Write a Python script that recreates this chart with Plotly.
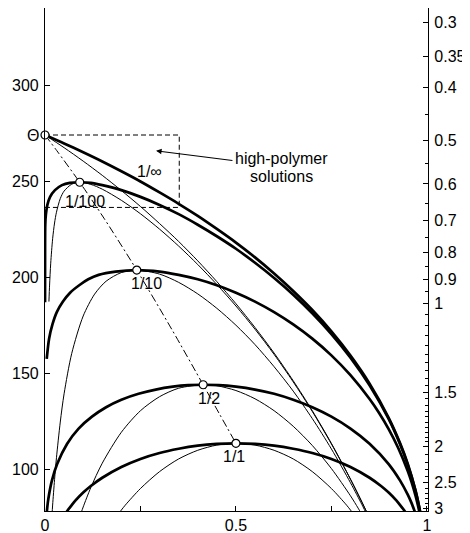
import plotly.graph_objects as go

# ---------------- data ----------------
# x: polymer volume fraction phi ; y: temperature T (left axis)
b1_phi = [0.05, 0.06, 0.07, 0.08, 0.10, 0.12, 0.15, 0.20, 0.25, 0.30, 0.35, 0.40, 0.45, 0.50,
          0.55, 0.60, 0.65, 0.70, 0.75, 0.80, 0.85, 0.88, 0.90, 0.92, 0.93, 0.94, 0.95]
b1_T = [75.8, 78.8, 81.4, 83.8, 87.9, 91.3, 95.6, 101.2, 105.4, 108.5, 110.7, 112.3, 113.2, 113.5,
        113.2, 112.3, 110.7, 108.5, 105.4, 101.2, 95.6, 91.3, 87.9, 83.8, 81.4, 78.8, 75.8]

s1_phi = [0.19, 0.20, 0.21, 0.25, 0.30, 0.35, 0.40, 0.45, 0.50, 0.55, 0.60, 0.65, 0.70, 0.75, 0.79, 0.80, 0.81]
s1_T = [76.3, 78.8, 81.3, 90.0, 98.8, 105.4, 109.9, 112.6, 113.5, 112.6, 109.9, 105.4, 98.8, 90.0, 81.3, 78.8, 76.3]

b2_phi = [0.0044, 0.0072, 0.0105, 0.0181, 0.0318, 0.058, 0.088, 0.123, 0.160, 0.200, 0.245, 0.290, 0.335,
          0.375, 0.414, 0.455, 0.50, 0.55, 0.60, 0.65, 0.70, 0.75, 0.80, 0.85, 0.90, 0.93, 0.95, 0.96, 0.97]
b2_T = [77.1, 82.4, 86.8, 94.1, 102.7, 113.3, 121.2, 127.4, 132.3, 136.2, 139.3, 141.5, 143.0,
        143.8, 144.0, 143.8, 143.0, 141.5, 139.3, 136.2, 132.3, 127.4, 121.2, 113.3, 102.7, 94.1, 86.8, 82.4, 77.1]

s2_phi = [0.094, 0.10, 0.12, 0.15, 0.20, 0.25, 0.30, 0.35, 0.414, 0.45, 0.50, 0.55, 0.60, 0.65, 0.70,
          0.75, 0.80, 0.82, 0.83]
s2_T = [77.0, 80.4, 90.5, 103.2, 119.3, 130.5, 137.8, 142.2, 144.0, 143.5, 141.0, 136.7, 130.5, 122.4, 112.4,
        100.4, 86.2, 79.8, 76.4]

b10_phi = [0.0045, 0.0107, 0.0195, 0.0309, 0.047, 0.0657, 0.0896, 0.1133, 0.1405, 0.185, 0.2403, 0.30,
           0.35, 0.40, 0.45, 0.50, 0.55, 0.60, 0.65, 0.70, 0.75, 0.80, 0.85, 0.875, 0.90, 0.925, 0.95,
           0.96, 0.97, 0.975, 0.98, 0.985]
b10_T = [157.5, 168.0, 175.4, 181.8, 187.3, 191.9, 195.8, 198.9, 201.2, 202.9, 203.7, 202.9,
         201.2, 198.9, 195.8, 191.9, 187.3, 181.8, 175.4, 168.0, 159.3, 149.0, 136.6, 129.3, 120.9, 111.1, 99.1,
         93.3, 86.5, 82.6, 78.2, 73.1]

s10_phi = [0.018, 0.02, 0.025, 0.03, 0.04, 0.05, 0.07, 0.10, 0.13, 0.16, 0.20, 0.2403, 0.30, 0.35, 0.40,
           0.45, 0.50, 0.55, 0.60, 0.65, 0.70, 0.75, 0.80, 0.83, 0.845]
s10_T = [75.5, 81.4, 94.6, 106.0, 124.6, 139.3, 160.3, 179.8, 191.2, 197.9, 202.4, 203.7, 201.6, 197.3, 191.3,
         183.8, 175.0, 164.9, 153.4, 140.7, 126.4, 110.6, 93.0, 81.6, 75.5]

b100_phi = [0.0001, 0.0002, 0.0007, 0.0024, 0.0062, 0.0133, 0.0261, 0.0445, 0.065, 0.0909, 0.12, 0.15,
            0.20, 0.25, 0.30, 0.35, 0.40, 0.45, 0.50, 0.55, 0.60, 0.65, 0.70, 0.75, 0.80, 0.85, 0.90,
            0.93, 0.95, 0.97, 0.98, 0.985]
b100_T = [187.0, 215.0, 227.3, 232.8, 237.6, 241.8, 245.3, 247.9, 249.1, 249.4, 249.1, 247.9,
          245.3, 241.8, 237.6, 232.8, 227.3, 221.3, 214.8, 207.5, 199.6, 190.9, 181.2, 170.4, 158.1, 143.7, 126.2,
          113.0, 102.4, 89.0, 80.2, 74.8]

s100_phi = [0.0103, 0.012, 0.015, 0.02, 0.025, 0.03, 0.04, 0.05, 0.07, 0.0909, 0.12, 0.15, 0.20, 0.25,
            0.30, 0.35, 0.40, 0.45, 0.50, 0.55, 0.60, 0.65, 0.70, 0.75, 0.80, 0.84, 0.85]
s100_T = [187.3, 195.9, 207.3, 220.0, 228.2, 233.8, 240.9, 244.8, 248.4, 249.4, 248.3, 245.8, 240.0, 233.0,
          225.0, 216.2, 206.6, 196.2, 185.0, 172.9, 159.8, 145.5, 130.1, 113.2, 94.8, 78.8, 74.5]

binf_phi = [0.0, 0.05, 0.10, 0.15, 0.20, 0.25, 0.30, 0.35, 0.40, 0.45, 0.50, 0.55, 0.60, 0.65, 0.70,
            0.75, 0.80, 0.85, 0.90, 0.93, 0.95, 0.97, 0.98, 0.985]
binf_T = [274.0, 269.6, 265.0, 260.2, 255.1, 249.8, 244.1, 238.2, 231.9, 225.1, 218.0, 210.3, 201.9, 192.8,
          182.9, 171.8, 159.2, 144.6, 126.8, 113.5, 102.8, 89.2, 80.4, 75.0]

sinf_phi = [0.0, 0.05, 0.10, 0.15, 0.20, 0.25, 0.30, 0.35, 0.40, 0.45, 0.50, 0.55, 0.60, 0.65, 0.70,
            0.75, 0.80, 0.82, 0.84, 0.85]
sinf_T = [274.0, 267.4, 260.4, 253.0, 245.1, 236.8, 227.9, 218.6, 208.5, 197.7, 186.2, 173.8, 160.5, 146.1,
          130.5, 113.5, 94.9, 87.0, 78.8, 74.6]

# locus of critical points (dash-dot) and the open circles on it
crit_phi = [0.0, 0.0307, 0.0909, 0.1544, 0.2403, 0.3333, 0.4142, 0.458, 0.5]
crit_T = [274.0, 265.9, 249.4, 230.7, 203.7, 172.4, 144.0, 128.4, 113.5]
circ_phi = [0.0, 0.0909, 0.2403, 0.4142, 0.5]
circ_T = [274.0, 249.4, 203.7, 144.0, 113.5]

# "high-polymer solutions" dashed box
box_phi = [0.0, 0.3516, 0.3516, 0.0]
box_T = [274.0, 274.0, 236.3, 236.3]

# curve labels
lab_text = ["1/\u221e", "1/100", "1/10", "1/2", "1/1"]
lab_phi = [0.274, 0.106, 0.265, 0.429, 0.494]
lab_T = [255.0, 239.2, 196.7, 136.8, 106.7]

# axes ticks
T_ticks = [100, 150, 200, 250, 300]
phi_ticks = [0, 0.25, 0.5, 0.75, 1]
phi_ticktext = ["0", "", "0.5", "", "1"]
chi_major = [0.3, 0.35, 0.4, 0.5, 0.6, 0.7, 0.8, 0.9, 1, 1.5, 2, 2.5, 3]
chi_major_text = ["0.3", "0.35", "0.4", "0.5", "0.6", "0.7", "0.8", "0.9", "1", "1.5", "2", "2.5", "3"]
chi_minor = [0.45, 0.55, 0.65, 0.75, 0.85, 0.95,
             1.05, 1.1, 1.15, 1.2, 1.25, 1.3, 1.35, 1.4, 1.45,
             1.55, 1.6, 1.65, 1.7, 1.75, 1.8, 1.85, 1.9, 1.95,
             2.1, 2.2, 2.3, 2.4, 2.6, 2.7, 2.8, 2.9]


def chi_to_T(chi):
    """Position of a chi value of the right-hand (nonlinear) scale on the T axis."""
    if chi <= 1:
        return 5.73 + 282.7 / (chi + 0.5644)
    return -2.08 + 288.75 / (chi + 0.5314)


# ---------------- figure ----------------
FONT = "Liberation Sans, Arial, Helvetica, sans-serif"
T_RANGE = [78.3, 340.1]
THICK, THIN = 2.7, 1.0

fig = go.Figure()


def add_curve(x, y, width, dash="solid", shape="spline"):
    fig.add_trace(go.Scatter(
        x=x, y=y, mode="lines",
        line=dict(color="black", width=width, dash=dash, shape=shape, smoothing=0.8),
        hoverinfo="skip", showlegend=False))


for px, py in [(s1_phi, s1_T), (s2_phi, s2_T), (s10_phi, s10_T), (s100_phi, s100_T), (sinf_phi, sinf_T)]:
    add_curve(px, py, THIN)
for px, py in [(b1_phi, b1_T), (b2_phi, b2_T), (b10_phi, b10_T), (b100_phi, b100_T), (binf_phi, binf_T)]:
    add_curve(px, py, THICK)

add_curve(box_phi, box_T, 1.0, dash="5px,3px", shape="linear")
add_curve(crit_phi, crit_T, 1.0, dash="8px,3px,2px,3px")

fig.add_trace(go.Scatter(
    x=circ_phi, y=circ_T, mode="markers",
    marker=dict(size=8, color="white", line=dict(color="black", width=1.2)),
    hoverinfo="skip", showlegend=False, cliponaxis=False))

# dummy trace so the right-hand axis is drawn
fig.add_trace(go.Scatter(x=[None], y=[None], yaxis="y2", showlegend=False, hoverinfo="skip"))

for t, x, y in zip(lab_text, lab_phi, lab_T):
    fig.add_annotation(x=x, y=y, text=t, showarrow=False,
                       font=dict(family=FONT, size=16, color="black"))

fig.add_annotation(x=0.6206, y=261.8, text="high-polymer", showarrow=False,
                   font=dict(family=FONT, size=16, color="black"))
fig.add_annotation(x=0.6206, y=252.6, text="solutions", showarrow=False,
                   font=dict(family=FONT, size=16, color="black"))
fig.add_annotation(x=0.2909, y=265.8, ax=0.4948, ay=260.6, axref="x", ayref="y",
                   text="", showarrow=True, arrowhead=2, arrowsize=1, arrowwidth=1.1,
                   arrowcolor="black")
fig.add_annotation(x=0, y=274.0, xref="x", yref="y", text="\u0398", showarrow=False,
                   xanchor="right", xshift=-4, font=dict(family=FONT, size=16, color="black"))

axis_common = dict(showgrid=False, zeroline=False, showline=True, linecolor="black",
                   linewidth=1.2, ticks="inside", ticklen=5, tickwidth=1.1, tickcolor="black",
                   automargin=False,
                   tickfont=dict(family=FONT, size=16, color="black"))

# the page body keeps its default 8px margin, so the figure is sized to fit inside it
fig.update_layout(
    width=462, height=525,
    margin=dict(l=37, r=42, t=0, b=22, autoexpand=False),
    paper_bgcolor="white", plot_bgcolor="white",
    xaxis=dict(range=[0, 1.003], tickmode="array", tickvals=phi_ticks, ticktext=phi_ticktext,
               **axis_common),
    yaxis=dict(range=T_RANGE, tickmode="array", tickvals=T_ticks,
               ticktext=[str(v) for v in T_ticks], ticklabelstandoff=2, **axis_common),
    yaxis2=dict(range=T_RANGE, overlaying="y", side="right", anchor="x",
                tickmode="array", tickvals=[chi_to_T(c) for c in chi_major],
                ticktext=chi_major_text, ticklabelstandoff=2,
                minor=dict(tickmode="array", tickvals=[chi_to_T(c) for c in chi_minor],
                           ticks="inside", ticklen=3, tickcolor="black", tickwidth=1),
                **axis_common),
)

fig.write_html("out.html")
